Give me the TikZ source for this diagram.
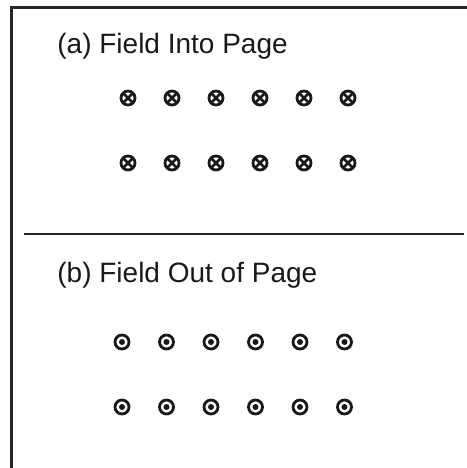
\documentclass[tikz,border=0pt]{standalone}
\usepackage{fontspec}
\setmainfont{Liberation Sans}
\tikzset{
  frameline/.style={line width=1.1pt,black!85},
  fieldlabel/.style={anchor=base west,inner sep=0pt,text=black!90,font=\fontsize{14}{17}\selectfont},
  fieldmark/.style={line width=1.4pt,black!90}
}
\begin{document}
\begin{tikzpicture}[x=0.5pt,y=-0.5pt]
\useasboundingbox (0,0) rectangle (467,468);
% frame (left and top edges)
\draw[frameline] (11.5,468) -- (11.5,7.5) -- (467,7.5);
% divider between (a) and (b)
\draw[frameline] (24,234) -- (464,234);
% labels
\node[fieldlabel] (lblA) at (57,53) {(a) Field Into Page};
\node[fieldlabel] (lblB) at (57,282) {(b) Field Out of Page};
% (a) field into page: crosses
\foreach \y in {98,163}{
  \foreach \i in {0,...,5}{
    \draw[fieldmark] (128+44*\i,\y) circle[radius=7]
      (128+44*\i-5,\y-5) -- (128+44*\i+5,\y+5)
      (128+44*\i-5,\y+5) -- (128+44*\i+5,\y-5);
  }
}
% (b) field out of page: dots
\foreach \y in {342,407}{
  \foreach \i in {0,...,5}{
    \draw[fieldmark] (122+44.5*\i,\y) circle[radius=7];
    \fill[black!90] (122+44.5*\i,\y) circle[radius=3];
  }
}
\end{tikzpicture}
\end{document}
